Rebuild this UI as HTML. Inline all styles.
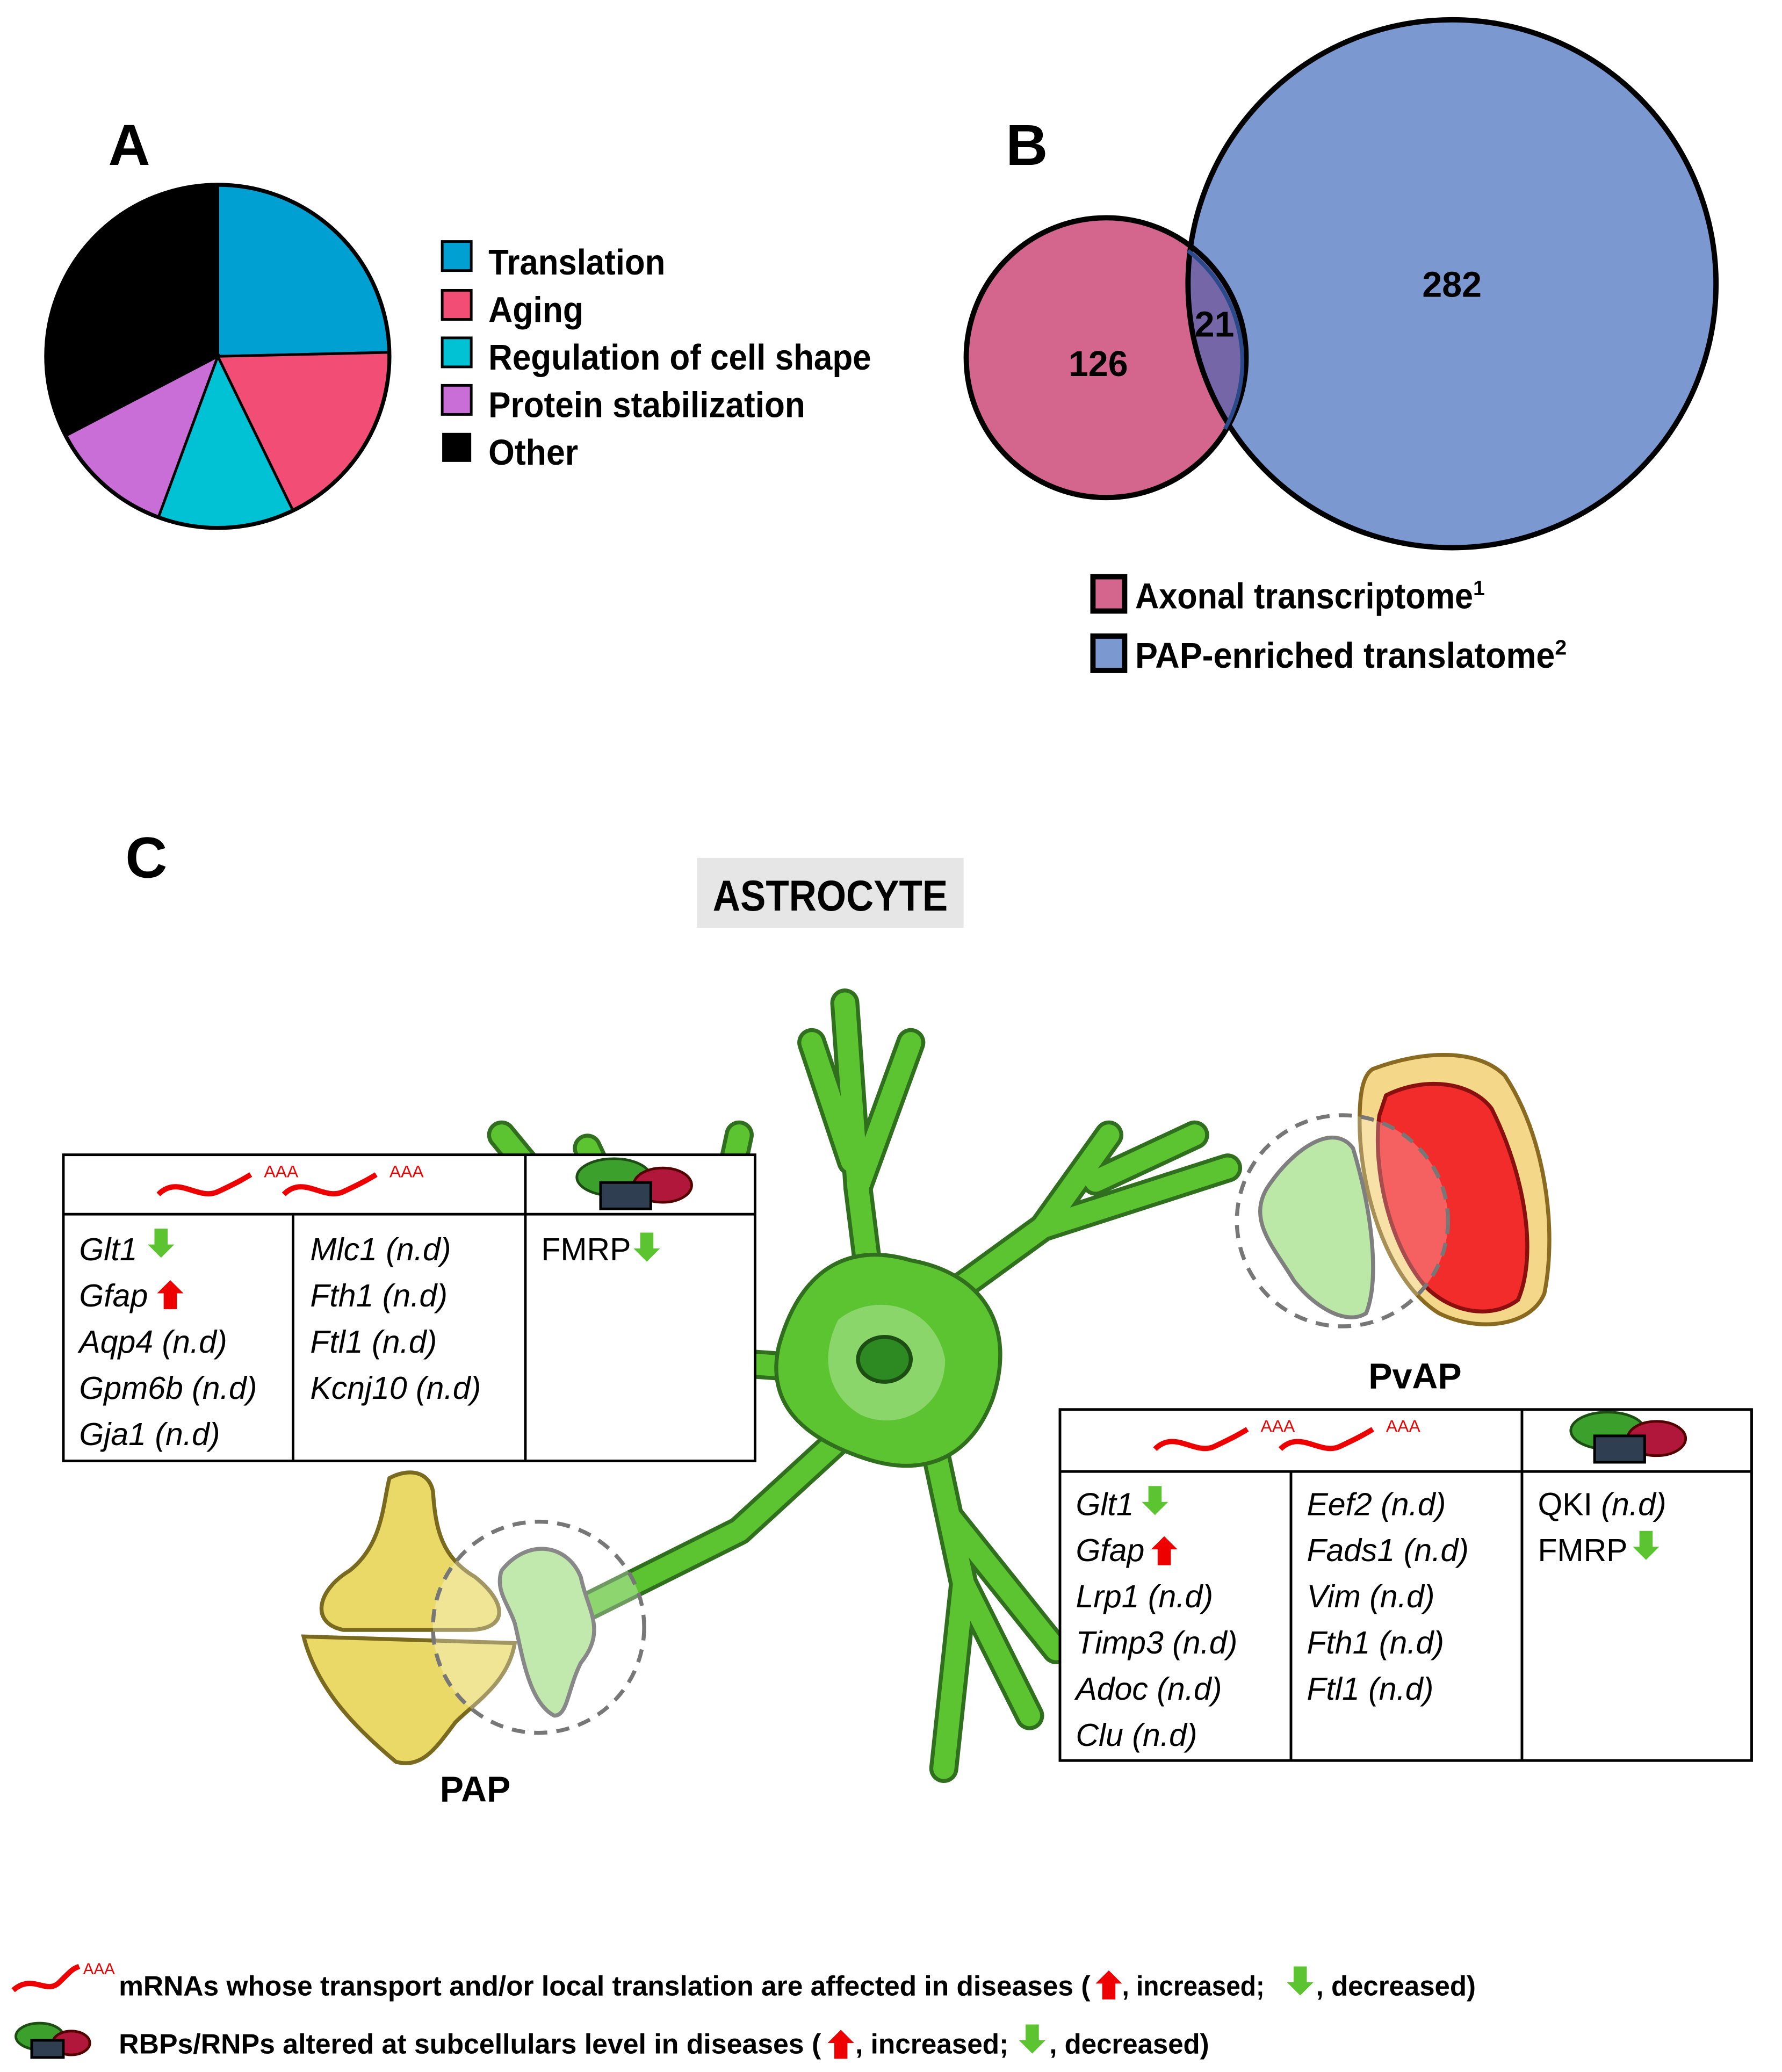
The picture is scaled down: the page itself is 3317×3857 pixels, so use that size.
<!DOCTYPE html>
<html><head><meta charset="utf-8"><style>
html,body{margin:0;padding:0;background:#fff}
svg{display:block}
text{font-family:"Liberation Sans",Arial,sans-serif}
.b{font-weight:bold}
.i{font-style:italic;font-size:24px}
</style></head><body>
<svg width="3317" height="3857" viewBox="0 0 1350 1570" preserveAspectRatio="none" xmlns="http://www.w3.org/2000/svg">
<rect width="1350" height="1570" fill="#fff"/>
<defs>
<path id="dn" d="M-5,-12 L5,-12 L5,0 L10,0 L0,10 L-10,0 L-5,0Z" fill="#5cc431"/>
<path id="up" d="M-5,12 L5,12 L5,0 L10,0 L0,-10 L-10,0 L-5,0Z" fill="#e00"/>
<clipPath id="pk"><circle cx="838" cy="271" r="106"/></clipPath>
</defs>
<!-- A -->
<text x="82" y="125" class="b" font-size="44">A</text>
<g stroke="#000" stroke-width="2">
<path d="M165,270 L165,140 A130,130 0 0 1 295,267 Z" fill="#00a0d2"/>
<path d="M165,270 L295,267 A130,130 0 0 1 222,387 Z" fill="#f24d74"/>
<path d="M165,270 L222,387 A130,130 0 0 1 120,392 Z" fill="#00c2d4"/>
<path d="M165,270 L120,392 A130,130 0 0 1 50,330 Z" fill="#c86ed6"/>
<path d="M165,270 L50,330 A130,130 0 0 1 165,140 Z" fill="#000"/>
</g>
<circle cx="165" cy="270" r="130" fill="none" stroke="#000" stroke-width="3"/>
<g font-size="27" class="b">
<rect x="335" y="183" width="22" height="22" fill="#00a0d2" stroke="#000" stroke-width="2"/><text x="370" y="208" textLength="134" lengthAdjust="spacingAndGlyphs">Translation</text>
<rect x="335" y="220" width="22" height="22" fill="#f24d74" stroke="#000" stroke-width="2"/><text x="370" y="244" textLength="72" lengthAdjust="spacingAndGlyphs">Aging</text>
<rect x="335" y="256" width="22" height="22" fill="#00c2d4" stroke="#000" stroke-width="2"/><text x="370" y="280" textLength="290" lengthAdjust="spacingAndGlyphs">Regulation of cell shape</text>
<rect x="335" y="292" width="22" height="22" fill="#c86ed6" stroke="#000" stroke-width="2"/><text x="370" y="316" textLength="240" lengthAdjust="spacingAndGlyphs">Protein stabilization</text>
<rect x="335" y="328" width="22" height="22" fill="#000"/><text x="370" y="352" textLength="68" lengthAdjust="spacingAndGlyphs">Other</text>
</g>
<!-- B -->
<text x="762" y="125" class="b" font-size="44">B</text>
<circle cx="838" cy="271" r="106" fill="#d4668e"/>
<circle cx="1100" cy="215" r="200" fill="#7b98d0"/>
<circle cx="1100" cy="215" r="200" fill="#7566a8" clip-path="url(#pk)"/>
<circle cx="838" cy="271" r="106" fill="none" stroke="#000" stroke-width="4"/>
<circle cx="1100" cy="215" r="200" fill="none" stroke="#000" stroke-width="4"/>
<path d="M900,190 A106,106 0 0 1 928,325" fill="none" stroke="#2b4a8a" stroke-width="3"/>
<g class="b" font-size="27" text-anchor="middle"><text x="832" y="285">126</text><text x="920" y="255">21</text><text x="1100" y="225">282</text></g>
<rect x="828" y="437" width="24" height="26" fill="#d4668e" stroke="#000" stroke-width="4"/>
<text x="860" y="461" class="b" font-size="27"><tspan textLength="256" lengthAdjust="spacingAndGlyphs">Axonal transcriptome</tspan><tspan font-size="16" dy="-10">1</tspan></text>
<rect x="828" y="482" width="24" height="26" fill="#7b98d0" stroke="#000" stroke-width="4"/>
<text x="860" y="506" class="b" font-size="27"><tspan textLength="318" lengthAdjust="spacingAndGlyphs">PAP-enriched  translatome</tspan><tspan font-size="16" dy="-10">2</tspan></text>
<!-- C -->
<text x="95" y="665" class="b" font-size="44">C</text>
<rect x="528" y="650" width="202" height="53" fill="#e6e6e6"/>
<text x="540" y="690" class="b" font-size="33" textLength="178" lengthAdjust="spacingAndGlyphs">ASTROCYTE</text>
<!-- astrocyte -->
<g fill="none" stroke="#2f6f1e" stroke-linecap="round" stroke-linejoin="round">
<g stroke-width="22">
<path d="M665,1020 L650,900 L640,760"/><path d="M650,900 L690,790"/><path d="M645,880 L615,790"/>
<path d="M680,1010 L790,930 L930,885"/><path d="M790,930 L840,860"/><path d="M830,895 L905,860"/>
<path d="M660,1040 L520,1030 L380,860"/><path d="M520,1030 L445,870"/><path d="M530,1000 L560,860"/>
<path d="M680,1050 L560,1160 L430,1225"/><path d="M700,1060 L730,1200 L715,1340"/><path d="M730,1200 L780,1300"/><path d="M720,1150 L800,1250"/>
</g></g>
<g fill="none" stroke="#5cc431" stroke-linecap="round" stroke-linejoin="round">
<g stroke-width="16">
<path d="M665,1020 L650,900 L640,760"/><path d="M650,900 L690,790"/><path d="M645,880 L615,790"/>
<path d="M680,1010 L790,930 L930,885"/><path d="M790,930 L840,860"/><path d="M830,895 L905,860"/>
<path d="M660,1040 L520,1030 L380,860"/><path d="M520,1030 L445,870"/><path d="M530,1000 L560,860"/>
<path d="M680,1050 L560,1160 L430,1225"/><path d="M700,1060 L730,1200 L715,1340"/><path d="M730,1200 L780,1300"/><path d="M720,1150 L800,1250"/>
</g></g>
<path d="M590,1020 C605,965 640,940 690,955 C745,965 770,1005 752,1060 C735,1105 700,1120 655,1105 C610,1090 580,1065 590,1020 Z" fill="#5cc431" stroke="#2f6f1e" stroke-width="3"/>
<path d="M635,1000 C662,978 708,988 716,1030 C716,1068 680,1085 652,1072 C628,1058 620,1030 635,1000Z" fill="#8ad66a"/>
<ellipse cx="670" cy="1030" rx="20" ry="17" fill="#2d8a22" stroke="#1c4d12" stroke-width="3"/>
<!-- PvAP -->
<path d="M1040,810 C1080,795 1120,795 1140,815 C1170,860 1180,930 1170,980 C1160,1005 1120,1010 1090,995 C1050,970 1030,900 1030,850 C1030,830 1032,815 1040,810Z" fill="#f5d78a" stroke="#8a6a20" stroke-width="3"/>
<path d="M1050,830 C1080,815 1115,820 1130,840 C1155,890 1165,950 1150,985 C1130,1000 1100,995 1080,975 C1050,940 1040,880 1045,845Z" fill="#f22b2b" stroke="#8a1010" stroke-width="3"/>
<path d="M960,900 C980,870 1010,850 1025,870 C1040,920 1045,970 1035,995 C1020,1005 995,990 980,970 C965,945 945,925 960,900Z" fill="#a6e08a" stroke="#555" stroke-width="3"/>
<circle cx="1017" cy="925" r="80" fill="#fff" fill-opacity="0.25" stroke="#777" stroke-width="3" stroke-dasharray="10,7"/>
<text x="1072" y="1052" class="b" font-size="27" text-anchor="middle">PvAP</text>
<!-- PAP -->
<path d="M295,1120 C310,1112 325,1115 328,1130 C330,1160 335,1180 360,1195 C385,1215 385,1235 355,1235 L260,1235 C235,1230 240,1205 265,1190 C290,1170 290,1140 295,1120Z" fill="#ead867" stroke="#7a6a20" stroke-width="3"/>
<path d="M230,1240 L390,1245 C385,1275 360,1290 345,1305 C330,1325 320,1340 300,1335 C270,1310 240,1280 230,1240Z" fill="#ead867" stroke="#7a6a20" stroke-width="3"/>
<path d="M380,1190 C400,1165 430,1170 440,1195 C445,1220 460,1235 440,1260 C430,1280 430,1300 420,1300 C400,1290 395,1250 390,1230 C385,1215 375,1205 380,1190Z" fill="#a6e08a" stroke="#555" stroke-width="3"/>
<circle cx="408" cy="1233" r="80" fill="#fff" fill-opacity="0.3" stroke="#777" stroke-width="3" stroke-dasharray="10,7"/>
<text x="360" y="1365" class="b" font-size="27" text-anchor="middle">PAP</text>
<!-- left table -->
<g stroke="#000" stroke-width="2">
<rect x="48" y="875" width="524" height="232" fill="#fff"/>
<line x1="48" y1="920" x2="572" y2="920"/><line x1="222" y1="920" x2="222" y2="1107"/><line x1="398" y1="875" x2="398" y2="1107"/>
</g>
<g fill="none" stroke="#e00" stroke-width="4"><path d="M120,905 C135,890 150,910 165,903 S185,893 190,890"/><path d="M215,905 C230,890 245,910 260,903 S280,893 285,890"/></g>
<text x="200" y="892" fill="#e00" font-size="13">AAA</text><text x="295" y="892" fill="#e00" font-size="13">AAA</text>
<ellipse cx="465" cy="892" rx="28" ry="14" fill="#3ca02c" stroke="#1c4d12" stroke-width="2"/><ellipse cx="502" cy="898" rx="22" ry="13" fill="#b0173a" stroke="#500" stroke-width="2"/><rect x="455" y="896" width="38" height="20" fill="#2f3e50" stroke="#000" stroke-width="2"/>
<g class="i">
<text x="60" y="955">Glt1</text><text x="60" y="990">Gfap</text><text x="60" y="1025">Aqp4 (n.d)</text><text x="60" y="1060">Gpm6b (n.d)</text><text x="60" y="1095">Gja1 (n.d)</text>
<text x="235" y="955">Mlc1 (n.d)</text><text x="235" y="990">Fth1 (n.d)</text><text x="235" y="1025">Ftl1 (n.d)</text><text x="235" y="1060">Kcnj10 (n.d)</text>
</g>
<text x="410" y="955" font-size="24">FMRP</text>
<!-- right table -->
<g stroke="#000" stroke-width="2">
<rect x="803" y="1068" width="524" height="266" fill="#fff"/>
<line x1="803" y1="1115" x2="1327" y2="1115"/><line x1="978" y1="1115" x2="978" y2="1334"/><line x1="1153" y1="1068" x2="1153" y2="1334"/>
</g>
<g fill="none" stroke="#e00" stroke-width="4"><path d="M875,1098 C890,1083 905,1103 920,1096 S940,1086 945,1083"/><path d="M970,1098 C985,1083 1000,1103 1015,1096 S1035,1086 1040,1083"/></g>
<text x="955" y="1085" fill="#e00" font-size="13">AAA</text><text x="1050" y="1085" fill="#e00" font-size="13">AAA</text>
<ellipse cx="1218" cy="1084" rx="28" ry="14" fill="#3ca02c" stroke="#1c4d12" stroke-width="2"/><ellipse cx="1255" cy="1090" rx="22" ry="13" fill="#b0173a" stroke="#500" stroke-width="2"/><rect x="1208" y="1088" width="38" height="20" fill="#2f3e50" stroke="#000" stroke-width="2"/>
<g class="i">
<text x="815" y="1148">Glt1</text><text x="815" y="1183">Gfap</text><text x="815" y="1218">Lrp1 (n.d)</text><text x="815" y="1253">Timp3 (n.d)</text><text x="815" y="1288">Adoc (n.d)</text><text x="815" y="1323">Clu (n.d)</text>
<text x="990" y="1148">Eef2 (n.d)</text><text x="990" y="1183">Fads1 (n.d)</text><text x="990" y="1218">Vim (n.d)</text><text x="990" y="1253">Fth1 (n.d)</text><text x="990" y="1288">Ftl1 (n.d)</text>
</g>
<text x="1165" y="1148" font-size="24">QKI <tspan font-style="italic">(n.d)</tspan></text><text x="1165" y="1183" font-size="24">FMRP</text>
<use href="#dn" x="122" y="943"/><use href="#up" x="129" y="980"/><use href="#dn" x="490" y="946"/>
<use href="#dn" x="875" y="1138"/><use href="#up" x="882" y="1174"/><use href="#dn" x="1247" y="1172"/>
<!-- bottom legend -->
<path d="M10,1508 C25,1495 35,1512 45,1502 S55,1492 60,1490" fill="none" stroke="#e00" stroke-width="4"/>
<text x="63" y="1496" fill="#e00" font-size="12">AAA</text>
<g class="b" font-size="21">
<text x="90" y="1512" textLength="736" lengthAdjust="spacingAndGlyphs">mRNAs whose transport and/or local translation are affected in diseases (</text>
<text x="850" y="1512" textLength="108" lengthAdjust="spacingAndGlyphs">, increased;</text>
<text x="997" y="1512" textLength="121" lengthAdjust="spacingAndGlyphs">, decreased)</text>
<text x="90" y="1556" textLength="532" lengthAdjust="spacingAndGlyphs">RBPs/RNPs altered  at subcellulars level in diseases (</text>
<text x="648" y="1556" textLength="116" lengthAdjust="spacingAndGlyphs">, increased;</text>
<text x="795" y="1556" textLength="121" lengthAdjust="spacingAndGlyphs">, decreased)</text>
</g>
<use href="#up" x="840" y="1503"/><use href="#dn" x="985" y="1502"/>
<ellipse cx="30" cy="1543" rx="18" ry="10" fill="#3ca02c" stroke="#1c4d12" stroke-width="2"/><ellipse cx="54" cy="1548" rx="14" ry="9" fill="#b0173a" stroke="#500" stroke-width="2"/><rect x="24" y="1546" width="24" height="13" fill="#2f3e50" stroke="#000" stroke-width="2"/>
<use href="#up" x="637" y="1548"/><use href="#dn" x="782" y="1546"/>
</svg>
</body></html>
